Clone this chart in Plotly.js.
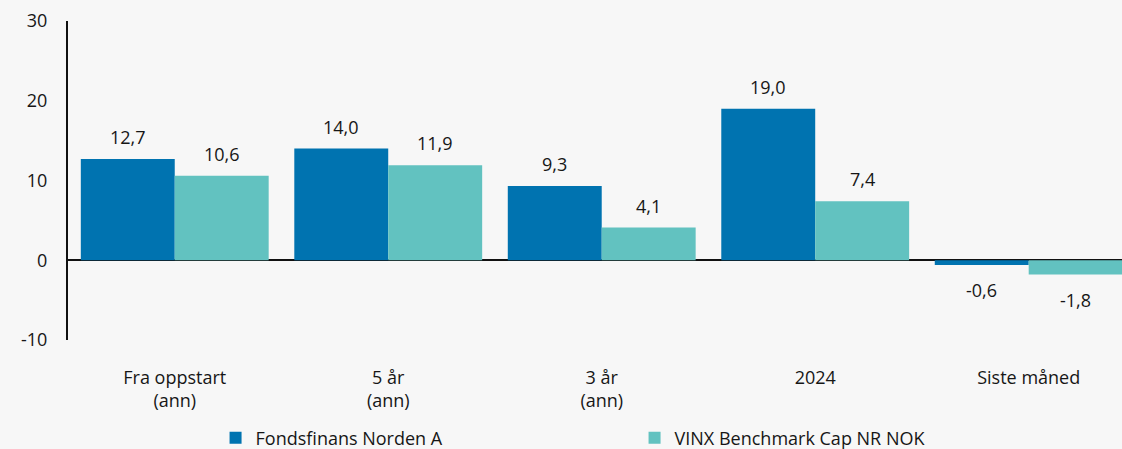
<!DOCTYPE html>
<html>
<head>
<meta charset="utf-8">
<script src="https://cdn.plot.ly/plotly-3.0.1.min.js"></script>
<style>html,body{margin:0;padding:0;background:#f7f7f7;}#chart{width:1122px;height:449px;}</style>
</head>
<body>
<div id="chart"></div>
<script>
const categories = ["Fra oppstart<br>(ann)", "5 år<br>(ann)", "3 år<br>(ann)", "2024", "Siste måned"];
const fundName = "Fondsfinans Norden A";
const benchName = "VINX Benchmark Cap NR NOK";
const fundValues = [12.7, 14.0, 9.3, 19.0, -0.6];
const benchValues = [10.6, 11.9, 4.1, 7.4, -1.8];
const yTicks = [-10, 0, 10, 20, 30];

const fundColor = "#0073b0";
const benchColor = "#62c2c0";
const textColor = "#161616";
const fontFamily = "'Open Sans', Roboto, sans-serif";
const fs = 18;

const fmt = v => v.toFixed(1).replace(".", ",");

const traces = [
  {type: "bar", name: fundName, x: categories, y: fundValues, marker: {color: fundColor}, hoverinfo: "skip"},
  {type: "bar", name: benchName, x: categories, y: benchValues, marker: {color: benchColor}, hoverinfo: "skip"}
];

const annotations = [];
[[fundValues, -47], [benchValues, 47]].forEach(([vals, shift]) => {
  vals.forEach((v, i) => {
    annotations.push({
      xref: "x", yref: "y", x: i, y: v, text: fmt(v),
      showarrow: false, xshift: shift, yshift: v >= 0 ? 8 : -11,
      yanchor: v >= 0 ? "bottom" : "top",
      font: {size: fs, color: textColor, family: fontFamily}
    });
  });
});

const layout = {
  width: 1122, height: 449,
  margin: {l: 68, r: 0, t: 21, b: 109, autoexpand: false},
  paper_bgcolor: "#f7f7f7", plot_bgcolor: "#f7f7f7",
  font: {family: fontFamily, size: fs, color: textColor},
  barmode: "group", bargap: 0.12, bargroupgap: 0,
  showlegend: true,
  legend: {orientation: "h", x: 0.14, xanchor: "left", y: -0.307, yanchor: "middle",
           entrywidth: 374, entrywidthmode: "pixels", font: {size: fs, color: textColor}, bgcolor: "rgba(0,0,0,0)"},
  xaxis: {type: "category", range: [-0.5, 4.437], showgrid: false, zeroline: false, showline: false,
          ticks: "outside", ticklen: 21, tickcolor: "rgba(0,0,0,0)", tickfont: {size: fs}, fixedrange: true},
  yaxis: {range: [-10, 30], tickvals: yTicks, ticktext: yTicks.map(String), showgrid: false,
          zeroline: true, zerolinecolor: "#111", zerolinewidth: 2,
          showline: true, linecolor: "#111", linewidth: 2,
          ticks: "outside", ticklen: 15, tickcolor: "rgba(0,0,0,0)", tickfont: {size: fs}, fixedrange: true},
  annotations: annotations
};

Plotly.newPlot("chart", traces, layout, {displayModeBar: false, staticPlot: true});
</script>
</body>
</html>
